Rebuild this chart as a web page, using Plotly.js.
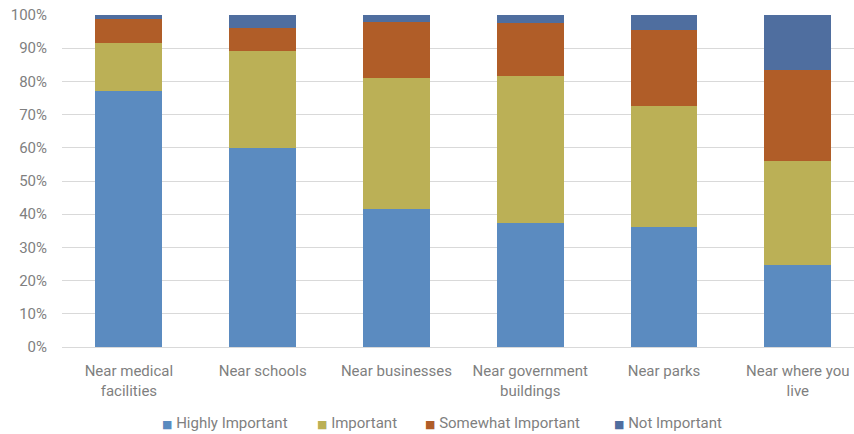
<!DOCTYPE html>
<html>
<head>
<meta charset="utf-8">
<script src="https://cdn.plot.ly/plotly-3.0.1.min.js"></script>
<style>html,body{margin:0;padding:0;background:#fff;}#chart{width:854px;height:434px;}</style>
</head>
<body>
<div id="chart"></div>
<script>
const categories = ["Near medical<br>facilities", "Near schools", "Near businesses", "Near government<br>buildings", "Near parks", "Near where you<br>live"];
const highlyImportant = [77.2, 59.8, 41.6, 37.4, 36.1, 24.8];
const important = [14.5, 29.4, 39.4, 44.2, 36.5, 31.1];
const somewhatImportant = [7.0, 6.9, 17.0, 16.1, 22.8, 27.6];
const notImportant = [1.3, 3.9, 2.0, 2.3, 4.6, 16.5];
const seriesNames = ["Highly Important", "Important", "Somewhat Important", "Not Important"];
const seriesColors = ["#5b8bc0", "#bbb056", "#b05d28", "#4f6e9f"];

const allSeries = [highlyImportant, important, somewhatImportant, notImportant];
const traces = allSeries.map((vals, i) => ({
  type: "bar",
  x: categories,
  y: vals.map(v => v / 100),
  name: seriesNames[i],
  marker: {color: seriesColors[i], line: {width: 0}},
  hoverinfo: "skip",
  showlegend: false
}));

// legend drawn as text annotations (left edge x in paper fraction)
const legendX = [0.124, 0.319, 0.456, 0.695];
const annotations = seriesNames.map((n, i) => ({
  xref: "paper", yref: "paper",
  x: legendX[i], y: -0.228,
  xanchor: "left", yanchor: "middle",
  showarrow: false,
  text: '<span style="color:' + seriesColors[i] + ';font-family:DejaVu Sans;font-size:11px">■</span> ' + n,
  font: {size: 15, color: "#7f7f7f"}
}));

const layout = {
  width: 854, height: 434,
  margin: {l: 62, r: 0, t: 15, b: 87, autoexpand: false},
  barmode: "stack",
  bargap: 0.5,
  paper_bgcolor: "#ffffff",
  plot_bgcolor: "#ffffff",
  font: {family: "Roboto, 'Liberation Sans', sans-serif", size: 15, color: "#7f7f7f"},
  xaxis: {
    range: [-0.5, 5.42],
    showgrid: false,
    showline: true,
    linecolor: "#d9d9d9",
    linewidth: 1,
    ticks: "",
    ticklabelstandoff: 10,
    tickfont: {size: 15, color: "#7f7f7f"}
  },
  yaxis: {
    range: [0, 1],
    tickvals: [0, 0.1, 0.2, 0.3, 0.4, 0.5, 0.6, 0.7, 0.8, 0.9, 1.0],
    tickformat: ".0%",
    showgrid: true,
    gridcolor: "#d9d9d9",
    gridwidth: 1,
    zeroline: false,
    ticks: "",
    ticklabelstandoff: 14,
    tickfont: {size: 15, color: "#7f7f7f"}
  },
  showlegend: false,
  annotations: annotations
};

Plotly.newPlot("chart", traces, layout, {displayModeBar: false, staticPlot: true});
</script>
</body>
</html>
